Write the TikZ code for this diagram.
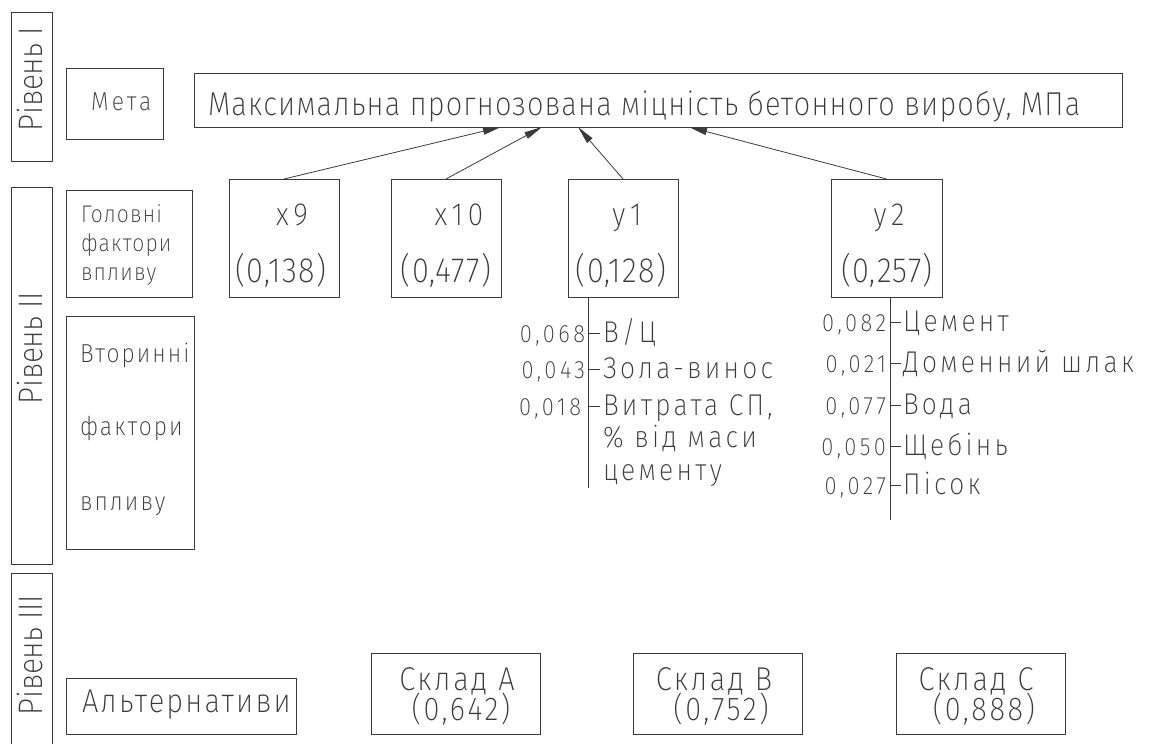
\documentclass[tikz,border=0pt]{standalone}
\usepackage{fontspec}
\IfFontExistsTF{Fira Sans ExtraLight}
  {\setmainfont{Fira Sans ExtraLight}[FakeStretch=0.88]}
  {\IfFontExistsTF{Fira Sans Light}
     {\setmainfont{Fira Sans Light}[FakeStretch=0.88]}
     {\setmainfont{Fira Sans}[FakeStretch=0.88]}}
\usetikzlibrary{arrows.meta}
\definecolor{ink}{HTML}{3A3A3A}
% size in pt, tracking in percent of the size
\newcommand\fsz[2]{\fontsize{#1}{#1}\selectfont\addfontfeatures{LetterSpace=#2}}

\begin{document}
\begin{tikzpicture}[x=1pt,y=-1pt,
  frame/.style={draw=ink, line width=1pt, inner sep=0pt, outer sep=0pt},
  txt/.style={text=ink, inner sep=0pt, outer sep=0pt},
  tLevel/.style={txt, rotate=90, font=\fsz{34}{-1}},
  tTitle/.style={txt, anchor=base west, font=\fsz{33}{3.6}},
  tSide/.style={txt, anchor=base west, font=\fsz{24}{5}},
  tSideB/.style={txt, anchor=base west, font=\fsz{26}{8}},
  tName/.style={txt, anchor=base, font=\fsz{32}{15}},
  tValue/.style={txt, anchor=base, font=\fsz{35}{3.5}},
  tAltern/.style={txt, anchor=base west, font=\fsz{33}{6.6}},
  tAlt/.style={txt, anchor=base, font=\fsz{33}{8}},
  tItem/.style={txt, anchor=base west, font=\fsz{30}{11}},
  tWeight/.style={txt, anchor=base east, font=\fsz{25}{14}},
  arr/.style={draw=ink, line width=0.8pt, -{Triangle[length=18pt,width=7pt]}},
  stem/.style={draw=ink, line width=0.9pt}]

\useasboundingbox (0,0) rectangle (1152,744);
\clip (0,0) rectangle (1152,744);

% level columns
\node[frame, minimum width=41pt, minimum height=149pt] (lv1) at (31.5,86.5) {};
\node[frame, minimum width=41pt, minimum height=377pt] (lv2) at (31.5,375.5) {};
\node[frame, minimum width=41pt, minimum height=177pt] (lv3) at (31.5,661.5) {};
\node[tLevel] (lv1t) at (30,79) {Рівень I};
\node[tLevel] (lv2t) at (30,348) {Рівень II};
\node[tLevel] (lv3t) at (30,655) {Рівень III};

% level I: goal
\node[frame, minimum width=97pt, minimum height=71pt] (meta) at (114.5,103.5) {};
\node[txt, anchor=base west, font=\fsz{26}{13}] (metat) at (91,110) {Мета};
\node[frame, minimum width=928pt, minimum height=54pt] (main) at (658,100) {};
\node[tTitle] (maint) at (208,115) {Максимальна прогнозована міцність бетонного виробу, МПа};

% level II: main factors
\node[frame, minimum width=126pt, minimum height=107pt] (gol) at (129,243.5) {};
\node[tSide] (gol1) at (81,222) {Головні};
\node[tSide] (gol2) at (81,251) {фактори};
\node[tSide] (gol3) at (81,280) {впливу};

\node[frame, minimum width=110pt, minimum height=118pt] (x9) at (284,238) {};
\node[frame, minimum width=110pt, minimum height=118pt] (x10) at (446,238) {};
\node[frame, minimum width=110pt, minimum height=118pt] (y1) at (623,238) {};
\node[frame, minimum width=111pt, minimum height=118pt] (y2) at (886.5,238) {};
\node[tName] (x9n) at (292,225) {x9};
\node[tValue] (x9v) at (281,282) {(0,138)};
\node[tName] (x10n) at (459,225) {x10};
\node[tValue] (x10v) at (446,282) {(0,477)};
\node[tName] (y1n) at (627,225) {y1};
\node[tValue] (y1v) at (621,282) {(0,128)};
\node[tName] (y2n) at (889,225) {y2};
\node[tValue] (y2v) at (887,282) {(0,257)};

% arrows into the goal
\coordinate (m1) at (501,127);
\coordinate (m2) at (542,127);
\coordinate (m3) at (578,127);
\coordinate (m4) at (689,127);
\draw[arr] (x9.north) -- (m1);
\draw[arr] (x10.north) -- (m2);
\draw[arr] (y1.north) -- (m3);
\draw[arr] (y2.north) -- (m4);

% secondary factors
\node[frame, minimum width=128pt, minimum height=233pt] (vtor) at (130,432.5) {};
\node[tSideB] (vtor1) at (80,362) {Вторинні};
\node[tSideB] (vtor2) at (80,435) {фактори};
\node[tSideB] (vtor3) at (80,510) {впливу};

% sub-factors of y1
\coordinate (s1top) at ([xshift=20pt]y1.south west);
\coordinate (s1bot) at (588,488);
\draw[stem] (s1top) -- (s1bot);
\coordinate (s1a) at (588,333);
\coordinate (s1b) at (588,369);
\coordinate (s1c) at (588,406);
\draw[stem] (s1a) -- ++(12,0);
\draw[stem] (s1b) -- ++(12,0);
\draw[stem] (s1c) -- ++(12,0);
\node[tWeight] (w1a) at (585,342) {0,068};
\node[tWeight] (w1b) at (585,378) {0,043};
\node[tWeight] (w1c) at (581,415) {0,018};
\node[tItem] (i1a) at (603,342) {В/Ц};
\node[tItem] (i1b) at (603,378) {Зола-винос};
\node[tItem] (i1c) at (603,415) {Витрата СП,};
\node[tItem] (i1d) at (603,447) {\% від маси};
\node[tItem] (i1e) at (603,480) {цементу};

% sub-factors of y2
\coordinate (s2top) at ([xshift=3.5pt]y2.south);
\coordinate (s2bot) at (890,520);
\draw[stem] (s2top) -- (s2bot);
\coordinate (s2a) at (890,322);
\coordinate (s2b) at (890,363);
\coordinate (s2c) at (890,405);
\coordinate (s2d) at (890,446);
\coordinate (s2e) at (890,485);
\draw[stem] (s2a) -- ++(11,0);
\draw[stem] (s2b) -- ++(11,0);
\draw[stem] (s2c) -- ++(11,0);
\draw[stem] (s2d) -- ++(11,0);
\draw[stem] (s2e) -- ++(11,0);
\node[tWeight] (w2a) at (886,331) {0,082};
\node[tWeight] (w2b) at (886,372) {0,021};
\node[tWeight] (w2c) at (886,414) {0,077};
\node[tWeight] (w2d) at (886,455) {0,050};
\node[tWeight] (w2e) at (886,494) {0,027};
\node[tItem] (i2a) at (903,331) {Цемент};
\node[tItem] (i2b) at (903,372) {Доменний шлак};
\node[tItem] (i2c) at (903,414) {Вода};
\node[tItem] (i2d) at (903,455) {Щебінь};
\node[tItem] (i2e) at (903,494) {Пісок};

% level III: alternatives
\node[frame, minimum width=230pt, minimum height=56pt] (alt) at (181,706) {};
\node[tAltern] (altt) at (82,712) {Альтернативи};
\node[frame, minimum width=169pt, minimum height=81pt] (sA) at (455.5,693.5) {};
\node[frame, minimum width=169pt, minimum height=81pt] (sB) at (717.5,693.5) {};
\node[frame, minimum width=169pt, minimum height=81pt] (sC) at (980.5,693.5) {};
\node[tAlt] (sAn) at (457,690) {Склад A};
\node[tAlt] (sAv) at (461,720) {(0,642)};
\node[tAlt] (sBn) at (714,690) {Склад B};
\node[tAlt] (sBv) at (721,720) {(0,752)};
\node[tAlt] (sCn) at (976,690) {Склад C};
\node[tAlt] (sCv) at (984,720) {(0,888)};
\end{tikzpicture}
\end{document}
